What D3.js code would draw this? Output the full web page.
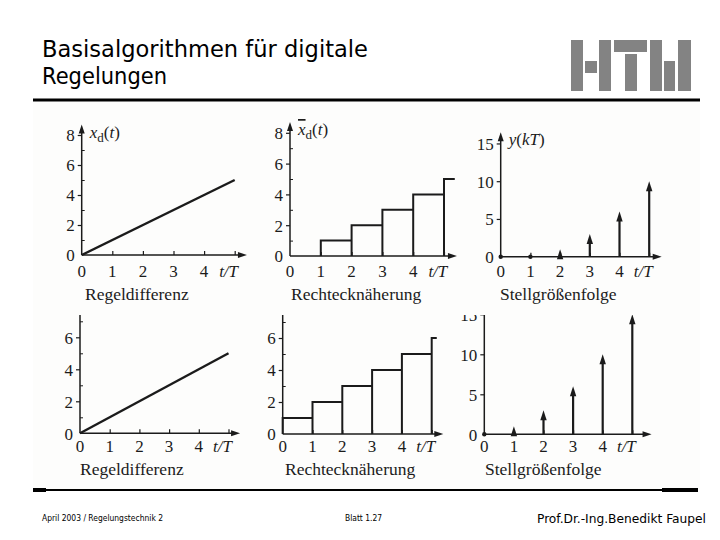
<!DOCTYPE html>
<html>
<head>
<meta charset="utf-8">
<script src="https://cdn.jsdelivr.net/npm/d3@7"></script>
<style>
  body { margin: 0; background: #fff; }
  svg { display: block; }
</style>
</head>
<body>
<svg id="slide" width="720" height="540"></svg>
<script>
// Data
const xTicks = [0, 1, 2, 3, 4, 5];
const xLabels = ["0", "1", "2", "3", "4"];
const rampT = [0, 5];
const rampX = [0, 5];
const rectTop = [0, 1, 2, 3, 4, 5];
const rectBottom = [1, 2, 3, 4, 5, 6];
const impTop = [0, 0, 1, 3, 6, 10];
const impBottom = [0, 1, 3, 6, 10, 15];
const yMajor8 = [0, 2, 4, 6, 8];
const yMajor6 = [0, 2, 4, 6];
const yMinor = [1, 3, 5, 7];
const yMajor15 = [0, 5, 10, 15];
const captions = ["Regeldifferenz", "Rechtecknäherung", "Stellgrößenfolge"];

let svg = d3.select("#slide");
let ink = "#1b1b1b";
let serif = "Liberation Serif, Times New Roman, serif";

// Scanned area (almost white)
svg.append("rect").attr("x", 33).attr("y", 102).attr("width", 667).attr("height", 387).attr("fill", "#fdfdfc");

// Title
svg.append("text").attr("x", 42).attr("y", 57).attr("font-family", "DejaVu Sans").attr("font-size", 23)
    .attr("textLength", 326).attr("lengthAdjust", "spacingAndGlyphs").attr("fill", "#000")
    .text("Basisalgorithmen für digitale");
svg.append("text").attr("x", 42).attr("y", 84).attr("font-family", "DejaVu Sans").attr("font-size", 23)
    .attr("textLength", 125).attr("lengthAdjust", "spacingAndGlyphs").attr("fill", "#000")
    .text("Regelungen");

// HTW logo
let logo = [[571, 40, 12, 51], [585, 61, 12, 12], [599, 40, 12, 51], [614, 40, 33, 12], [625, 54, 12, 37],
    [650, 40, 12, 51], [664, 61, 11, 30], [678, 40, 13, 51]];
svg.selectAll(".logo").data(logo).enter().append("rect").attr("class", "logo")
    .attr("x", d => d[0]).attr("y", d => d[1]).attr("width", d => d[2]).attr("height", d => d[3])
    .attr("fill", "#838383");

// Rules
svg.append("line").attr("x1", 33).attr("x2", 700).attr("y1", 100).attr("y2", 100).attr("stroke", "#000").attr("stroke-width", 3);
svg.append("line").attr("x1", 33).attr("x2", 698).attr("y1", 490).attr("y2", 490).attr("stroke", "#000").attr("stroke-width", 2);
svg.append("line").attr("x1", 33).attr("x2", 46).attr("y1", 490).attr("y2", 490).attr("stroke", "#000").attr("stroke-width", 4);
svg.append("line").attr("x1", 662).attr("x2", 698).attr("y1", 490).attr("y2", 490).attr("stroke", "#000").attr("stroke-width", 4);

// Footer
svg.append("text").attr("x", 42).attr("y", 521).attr("font-family", "DejaVu Sans Condensed").attr("font-size", 8.5)
    .attr("textLength", 121).attr("lengthAdjust", "spacingAndGlyphs").text("April 2003 / Regelungstechnik 2");
svg.append("text").attr("x", 345).attr("y", 521).attr("font-family", "DejaVu Sans Condensed").attr("font-size", 8.5)
    .attr("textLength", 37).attr("lengthAdjust", "spacingAndGlyphs").text("Blatt 1.27");
svg.append("text").attr("x", 537).attr("y", 523).attr("font-family", "DejaVu Sans Condensed").attr("font-size", 12)
    .attr("textLength", 169).attr("lengthAdjust", "spacingAndGlyphs").text("Prof.Dr.-Ing.Benedikt Faupel");

// Clip for the lower row (the scan cuts it off at the top)
svg.append("clipPath").attr("id", "lowerClip").append("rect")
    .attr("x", 33).attr("y", 315).attr("width", 667).attr("height", 174);

// Panel settings
let panels = [
    {x0: 81.7, y0: 255, ux: 30.6, uy: 15, yTop: 8.7, xEnd: 5.4, major: yMajor8, minor: yMinor, kind: "ramp", label: "xd", cap: 0, capX: 85, capY: 300, labDy: 21.5, row: 0},
    {x0: 290, y0: 256, ux: 30.8, uy: 15.4, yTop: 8.7, xEnd: 5.42, major: yMajor8, minor: yMinor, kind: "rect", vals: rectTop, stepEnd: 5.35, label: "xbar", cap: 1, capX: 291, capY: 300, labDy: 21, row: 0},
    {x0: 500.7, y0: 256.7, ux: 29.7, uy: 7.55, yTop: 16.5, xEnd: 5.42, major: yMajor15, minor: [], kind: "imp", vals: impTop, label: "y", cap: 2, capX: 500, capY: 300, labDy: 20.5, row: 0},
    {x0: 80, y0: 433.3, ux: 29.7, uy: 16, yTop: 7.6, xEnd: 5.39, major: yMajor6, minor: yMinor, kind: "ramp", label: "", cap: 0, capX: 80, capY: 475, labDy: 18.4, row: 1},
    {x0: 282.7, y0: 434, ux: 29.8, uy: 16, yTop: 7.6, xEnd: 5.39, major: yMajor6, minor: yMinor, kind: "rect", vals: rectBottom, stepEnd: 5.17, label: "", cap: 1, capX: 285, capY: 475, labDy: 17.8, row: 1},
    {x0: 484.3, y0: 434.3, ux: 29.6, uy: 8, yTop: 15.5, xEnd: 5.65, major: yMajor15, minor: [], kind: "imp", vals: impBottom, label: "", cap: 2, capX: 485, capY: 475, labDy: 17.5, row: 1}
];

panels.forEach(function(p){
    let g = svg.append("g");
    if(p.row === 1) g.attr("clip-path", "url(#lowerClip)");

    let x = d3.scaleLinear().domain([0, 5]).range([p.x0, p.x0 + 5 * p.ux]);
    let y = d3.scaleLinear().domain([0, 10]).range([p.y0, p.y0 - 10 * p.uy]);

    // y ticks: labelled ones to the left, minor ones to the right
    let yAxis = g.append("g").attr("transform", "translate(" + p.x0 + ",0)")
        .call(d3.axisLeft(y).tickValues(p.major).tickSize(4).tickPadding(3));
    yAxis.call(ax => ax.select(".domain").remove());
    yAxis.selectAll("text").attr("font-family", serif).attr("font-size", 17).attr("fill", ink).attr("dy", "0.35em");
    yAxis.selectAll("line").attr("stroke", ink).attr("stroke-width", 1.2);
    yAxis.selectAll(".tick").filter(d => d === 0).select("line").remove();

    if(p.minor.length){
        let yMin = g.append("g").attr("transform", "translate(" + p.x0 + ",0)")
            .call(d3.axisRight(y).tickValues(p.minor).tickSize(3).tickFormat(""));
        yMin.call(ax => ax.select(".domain").remove());
        yMin.selectAll("line").attr("stroke", ink).attr("stroke-width", 1);
    }

    // x ticks point upward, labels set below
    let xAxis = g.append("g").attr("transform", "translate(0," + p.y0 + ")")
        .call(d3.axisTop(x).tickValues(xTicks.slice(1)).tickSize(4).tickFormat(""));
    xAxis.call(ax => ax.select(".domain").remove());
    xAxis.selectAll("line").attr("stroke", ink).attr("stroke-width", 1.2);

    g.selectAll(".xl").data(xLabels).enter().append("text")
        .attr("x", (d, i) => x(i)).attr("y", p.y0 + p.labDy)
        .attr("text-anchor", "middle").attr("font-family", serif).attr("font-size", 17).attr("fill", ink)
        .text(d => d);
    g.append("text").attr("x", x(4.8)).attr("y", p.y0 + p.labDy).attr("text-anchor", "middle")
        .attr("font-family", serif).attr("font-size", 17).attr("font-style", "italic").attr("fill", ink)
        .text("t/T");

    // axis lines with arrow heads (the lower row is cut off before the y arrow)
    g.append("line").attr("x1", p.x0).attr("x2", x(p.xEnd) - 6).attr("y1", p.y0).attr("y2", p.y0)
        .attr("stroke", ink).attr("stroke-width", 1.5);
    g.append("path").attr("d", "M" + x(p.xEnd) + "," + p.y0 + "l-9,-3v6z").attr("fill", ink);
    g.append("line").attr("x1", p.x0).attr("x2", p.x0).attr("y1", p.y0).attr("y2", y(p.yTop) + (p.row === 0 ? 6 : 0))
        .attr("stroke", ink).attr("stroke-width", 1.5);
    if(p.row === 0){
        g.append("path").attr("d", "M" + p.x0 + "," + y(p.yTop) + "l-3,9h6z").attr("fill", ink);
    }

    // y axis label (only visible in the upper row)
    if(p.label){
        let lab = g.append("text").attr("x", p.x0 + 8).attr("y", y(p.yTop) + 13)
            .attr("font-family", serif).attr("font-size", 17).attr("fill", ink);
        if(p.label === "y"){
            lab.append("tspan").attr("font-style", "italic").text("y");
            lab.append("tspan").text("(");
            lab.append("tspan").attr("font-style", "italic").text("kT");
            lab.append("tspan").text(")");
        } else {
            let xs = lab.append("tspan").attr("font-style", "italic").text("x");
            if(p.label === "xbar") xs.attr("text-decoration", "overline");
            lab.append("tspan").attr("font-size", 13).attr("dy", 4).text("d");
            lab.append("tspan").attr("dy", -4).text("(");
            lab.append("tspan").attr("font-style", "italic").text("t");
            lab.append("tspan").text(")");
        }
    }

    // data marks
    if(p.kind === "ramp"){
        let pts = rampT.map((t, i) => [t, rampX[i]]);
        g.append("path").datum(pts)
            .attr("d", d3.line().x(d => x(d[0])).y(d => y(d[1])))
            .attr("fill", "none").attr("stroke", ink).attr("stroke-width", 2.4);
    } else if(p.kind === "rect"){
        g.selectAll(".bar").data(p.vals).enter().append("path").attr("class", "bar")
            .attr("d", function(v, k){
                if(v === 0) return "";
                let right = Math.min(k + 1, p.stepEnd);
                return "M" + x(k) + "," + y(0) + "V" + y(v) + "H" + x(right);
            })
            .attr("fill", "none").attr("stroke", ink).attr("stroke-width", 2);
    } else {
        g.selectAll(".imp").data(p.vals).enter().append("path").attr("class", "imp")
            .attr("d", function(v, k){
                if(v === 0) return "";
                let base = Math.min(y(v) + 9, y(0));
                return "M" + x(k) + "," + y(0) + "V" + base;
            })
            .attr("stroke", ink).attr("stroke-width", 2.2).attr("fill", "none");
        g.selectAll(".head").data(p.vals).enter().append("path").attr("class", "head")
            .attr("d", function(v, k){
                if(v === 0) return "";
                return "M" + x(k) + "," + y(v) + "l-3.2,10h6.4z";
            })
            .attr("fill", ink);
        g.selectAll(".dot").data(p.vals.map((v, k) => [k, v]).filter(d => d[1] === 0)).enter()
            .append("circle").attr("class", "dot")
            .attr("cx", d => x(d[0])).attr("cy", y(0)).attr("r", 2.2).attr("fill", ink);
    }

    // caption below the panel
    g.append("text").attr("x", p.capX).attr("y", p.capY)
        .attr("font-family", serif).attr("font-size", 17.5).attr("fill", ink)
        .text(captions[p.cap]);
});
</script>
</body>
</html>
